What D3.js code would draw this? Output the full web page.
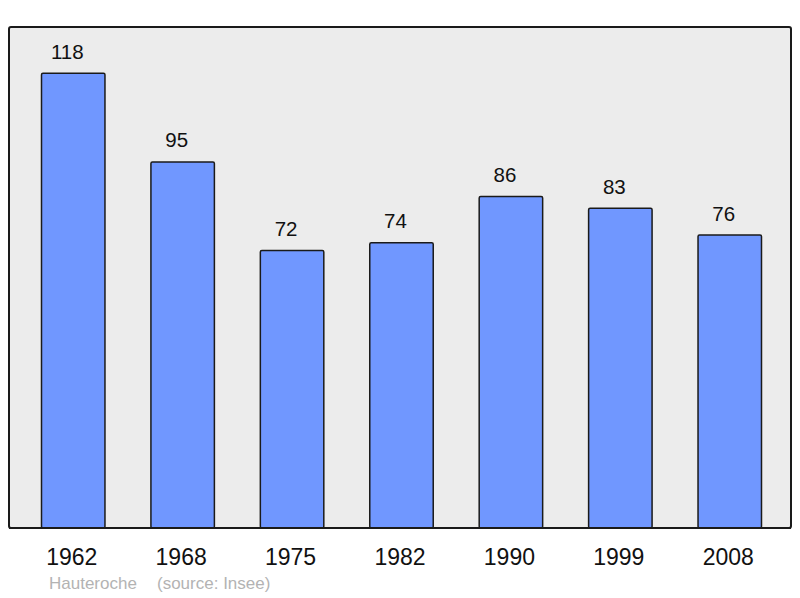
<!DOCTYPE html>
<html>
<head>
<meta charset="utf-8">
<script src="https://cdn.jsdelivr.net/npm/d3@7"></script>
<style>
  body { margin: 0; background: #fff; }
  text { font-family: "Liberation Sans", Arial, sans-serif; }
</style>
</head>
<body>
<svg id="chart" width="800" height="598"></svg>
<script>
// population by census year
var years = ["1962", "1968", "1975", "1982", "1990", "1999", "2008"];
var population = [118, 95, 72, 74, 86, 83, 76];
var place = "Hauteroche";
var source = "(source: Insee)";

var svg = d3.select("#chart");

var plot = { left: 9, top: 27, right: 791, bottom: 528 };

var x = d3.scaleBand()
    .domain(years)
    .range([41.5, 761.5])
    .paddingInner(0.42)
    .paddingOuter(0);

var y = d3.scaleLinear()
    .domain([0, 130])
    .range([plot.bottom, plot.top]);

svg.append("rect")
    .attr("x", plot.left)
    .attr("y", plot.top)
    .attr("width", plot.right - plot.left)
    .attr("height", plot.bottom - plot.top)
    .attr("rx", 2)
    .attr("fill", "#ececec")
    .attr("stroke", "#1a1a1a")
    .attr("stroke-width", 2);

var bars = svg.selectAll(".bar")
    .data(years)
    .enter().append("g")
    .attr("class", "bar");

bars.append("rect")
    .attr("x", function (d) { return x(d); })
    .attr("y", function (d, i) { return y(population[i]); })
    .attr("width", x.bandwidth())
    .attr("height", function (d, i) { return plot.bottom - y(population[i]); })
    .attr("rx", 1.5)
    .attr("fill", "#7097ff")
    .attr("stroke", "#1a1a1a")
    .attr("stroke-width", 1.5);

// value labels sit a little left of the bar centre
bars.append("text")
    .attr("x", function (d) { return x(d) + x.bandwidth() / 2 - 6; })
    .attr("y", function (d, i) { return y(population[i]) - 14.5; })
    .attr("text-anchor", "middle")
    .attr("font-size", 20.5)
    .attr("fill", "#111")
    .text(function (d, i) { return population[i]; });

// redraw the frame bottom on top so bar bottoms sit on it
svg.append("line")
    .attr("x1", plot.left).attr("x2", plot.right)
    .attr("y1", plot.bottom).attr("y2", plot.bottom)
    .attr("stroke", "#1a1a1a")
    .attr("stroke-width", 2);

svg.selectAll(".year")
    .data(years)
    .enter().append("text")
    .attr("class", "year")
    .attr("x", function (d) { return x(d) + x.bandwidth() / 2 - 1.5; })
    .attr("y", 565)
    .attr("text-anchor", "middle")
    .attr("font-size", 23)
    .attr("fill", "#111")
    .text(function (d) { return d; });

svg.append("text")
    .attr("x", 49)
    .attr("y", 589)
    .attr("font-size", 17)
    .attr("fill", "#b3b3b3")
    .text(place);

svg.append("text")
    .attr("x", 157)
    .attr("y", 589)
    .attr("font-size", 17)
    .attr("fill", "#b3b3b3")
    .text(source);
</script>
</body>
</html>
